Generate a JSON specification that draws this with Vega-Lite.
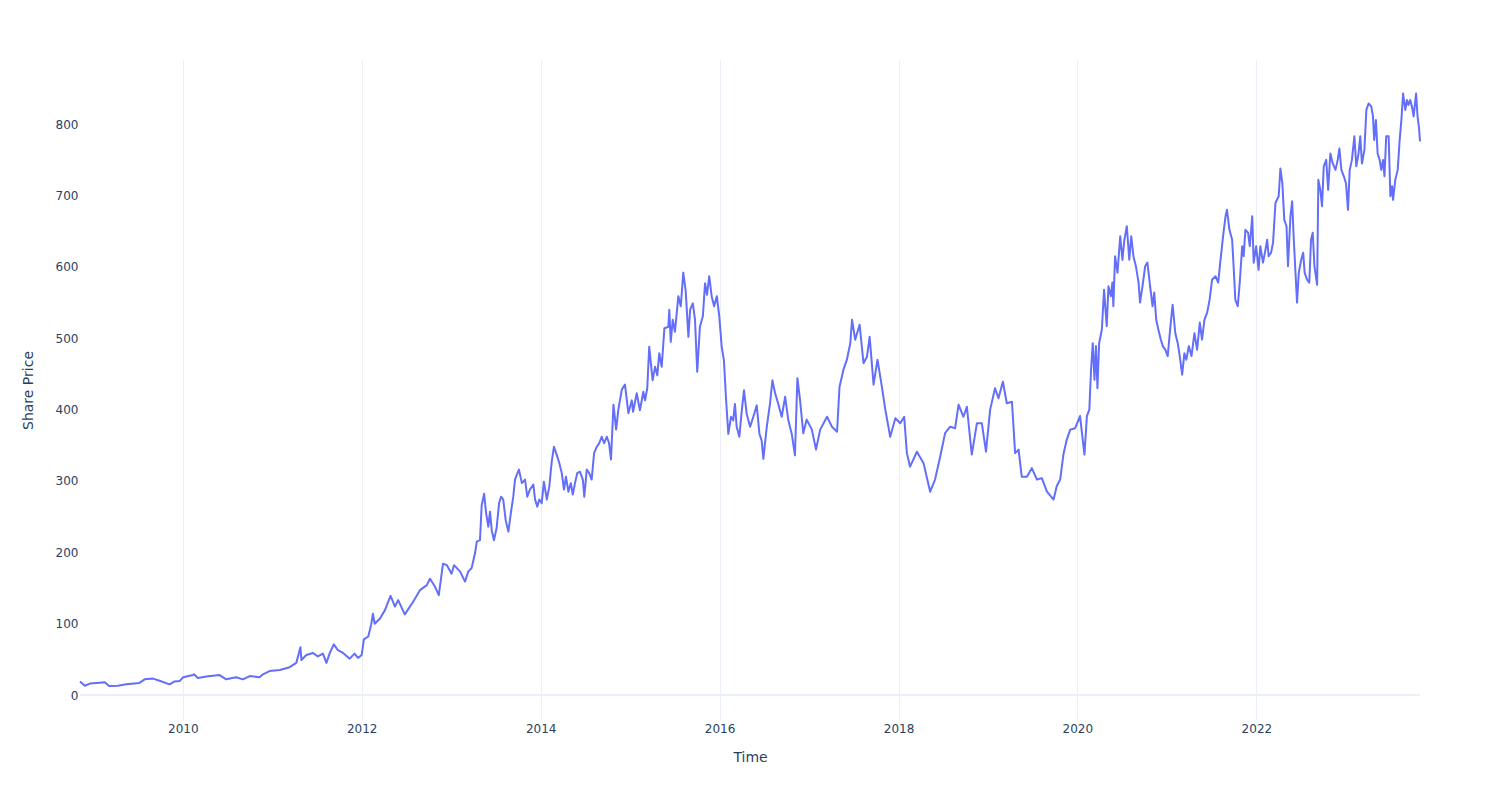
{
"$schema":"https://vega.github.io/schema/vega-lite/v6.json",
"width":1340,"height":660,
"autosize":{"type":"none"},
"padding":{"left":80,"top":60,"right":80,"bottom":80},
"background":"white",
"config":{"view":{"stroke":null},"font":"DejaVu Sans",
"axis":{"labelColor":"#2a3f5f","labelFontSize":12,"titleColor":"#2a3f5f","titleFontSize":14,"titleFontWeight":"normal","gridColor":"#EBF0F8","gridWidth":1,"domain":false,"ticks":false,"labelFont":"DejaVu Sans","titleFont":"DejaVu Sans"}},
"layer":[
{"data":{"values":[{}]},
"mark":{"type":"rule","color":"#EBF0F8","strokeWidth":2},
"encoding":{"y":{"datum":0,"type":"quantitative","axis":{"title":"Share Price"}}}},
{"data":{"values":[
{"date":"2008-11-07","price":19},{"date":"2008-11-27","price":13},{"date":"2008-12-17","price":16},{"date":"2009-01-14","price":17},{"date":"2009-02-16","price":18},{"date":"2009-03-06","price":12.6},{"date":"2009-04-11","price":13},{"date":"2009-05-15","price":15},{"date":"2009-07-08","price":17},{"date":"2009-07-29","price":22},{"date":"2009-09-01","price":23},{"date":"2009-09-28","price":20},{"date":"2009-11-08","price":15},{"date":"2009-11-28","price":19},{"date":"2009-12-19","price":19.6},{"date":"2010-01-02","price":25},{"date":"2010-02-11","price":28},{"date":"2010-02-15","price":29},{"date":"2010-03-03","price":24},{"date":"2010-04-07","price":26},{"date":"2010-05-31","price":28},{"date":"2010-06-27","price":22},{"date":"2010-08-07","price":25},{"date":"2010-09-03","price":22},{"date":"2010-10-01","price":26.6},{"date":"2010-11-10","price":25},{"date":"2010-11-24","price":29},{"date":"2010-12-21","price":33.6},{"date":"2011-02-01","price":35},{"date":"2011-03-13","price":39},{"date":"2011-04-09","price":45},{"date":"2011-04-26","price":67},{"date":"2011-04-30","price":49},{"date":"2011-05-20","price":56},{"date":"2011-06-16","price":59},{"date":"2011-07-06","price":54},{"date":"2011-07-27","price":58},{"date":"2011-08-10","price":45},{"date":"2011-08-23","price":58},{"date":"2011-09-09","price":71},{"date":"2011-09-26","price":63},{"date":"2011-10-17","price":59},{"date":"2011-11-13","price":51},{"date":"2011-12-03","price":58},{"date":"2011-12-17","price":52},{"date":"2012-01-01","price":56},{"date":"2012-01-10","price":78},{"date":"2012-01-28","price":82},{"date":"2012-02-09","price":99},{"date":"2012-02-16","price":114},{"date":"2012-02-23","price":100},{"date":"2012-03-15","price":107},{"date":"2012-04-05","price":119},{"date":"2012-04-28","price":139},{"date":"2012-05-16","price":124},{"date":"2012-05-29","price":133},{"date":"2012-06-25","price":113},{"date":"2012-07-28","price":130},{"date":"2012-08-26","price":147},{"date":"2012-09-23","price":154},{"date":"2012-10-06","price":163},{"date":"2012-10-26","price":152},{"date":"2012-11-11","price":140},{"date":"2012-11-28","price":184},{"date":"2012-12-14","price":182},{"date":"2013-01-02","price":170},{"date":"2013-01-12","price":182},{"date":"2013-02-06","price":173},{"date":"2013-02-26","price":159},{"date":"2013-03-11","price":173},
{"date":"2013-03-25","price":178},{"date":"2013-04-08","price":199},{"date":"2013-04-15","price":215},{"date":"2013-04-28","price":217},{"date":"2013-05-05","price":266},{"date":"2013-05-15","price":282},{"date":"2013-05-23","price":255},{"date":"2013-06-01","price":236},{"date":"2013-06-08","price":257},{"date":"2013-06-15","price":231},{"date":"2013-06-24","price":217},{"date":"2013-07-05","price":234},{"date":"2013-07-15","price":269},{"date":"2013-07-23","price":278},{"date":"2013-08-01","price":274},{"date":"2013-08-11","price":245},{"date":"2013-08-22","price":229},{"date":"2013-09-01","price":255},{"date":"2013-09-11","price":278},{"date":"2013-09-18","price":302},{"date":"2013-09-28","price":311},{"date":"2013-10-04","price":316},{"date":"2013-10-16","price":297},{"date":"2013-10-29","price":302},{"date":"2013-11-07","price":278},{"date":"2013-11-18","price":288},{"date":"2013-12-02","price":295},{"date":"2013-12-09","price":274},{"date":"2013-12-18","price":264},{"date":"2013-12-26","price":274},{"date":"2014-01-05","price":269},{"date":"2014-01-14","price":299},{"date":"2014-01-26","price":274},{"date":"2014-02-05","price":292},{"date":"2014-02-15","price":327},{"date":"2014-02-24","price":348},{"date":"2014-03-07","price":337},{"date":"2014-03-18","price":325},{"date":"2014-03-28","price":311},{"date":"2014-04-06","price":288},{"date":"2014-04-14","price":306},{"date":"2014-04-24","price":285},{"date":"2014-05-04","price":297},{"date":"2014-05-12","price":281},{"date":"2014-05-21","price":297},{"date":"2014-05-30","price":311},{"date":"2014-06-10","price":313},{"date":"2014-06-22","price":302},{"date":"2014-06-28","price":278},{"date":"2014-07-08","price":316},{"date":"2014-07-18","price":311},{"date":"2014-07-28","price":302},{"date":"2014-08-07","price":339},{"date":"2014-08-18","price":348},{"date":"2014-08-28","price":353},{"date":"2014-09-07","price":362},{"date":"2014-09-17","price":353},{"date":"2014-09-28","price":362},{"date":"2014-10-07","price":353},{"date":"2014-10-15","price":330},{"date":"2014-10-25","price":407},{"date":"2014-11-05","price":372},{"date":"2014-11-14","price":400},{"date":"2014-11-21","price":414},{"date":"2014-11-28","price":428},{"date":"2014-12-11","price":435},{"date":"2014-12-25","price":395},
{"date":"2015-01-08","price":413},{"date":"2015-01-13","price":397},{"date":"2015-01-28","price":423},{"date":"2015-02-10","price":399},{"date":"2015-02-24","price":425},{"date":"2015-03-03","price":413},{"date":"2015-03-12","price":430},{"date":"2015-03-20","price":488},{"date":"2015-04-03","price":441},{"date":"2015-04-13","price":460},{"date":"2015-04-22","price":448},{"date":"2015-04-30","price":479},{"date":"2015-05-10","price":460},{"date":"2015-05-21","price":514},{"date":"2015-06-06","price":516},{"date":"2015-06-10","price":540},{"date":"2015-06-16","price":495},{"date":"2015-06-24","price":526},{"date":"2015-07-03","price":509},{"date":"2015-07-17","price":559},{"date":"2015-07-27","price":545},{"date":"2015-08-06","price":592},{"date":"2015-08-16","price":566},{"date":"2015-08-27","price":502},{"date":"2015-09-03","price":540},{"date":"2015-09-14","price":549},{"date":"2015-09-23","price":526},{"date":"2015-10-02","price":453},{"date":"2015-10-13","price":516},{"date":"2015-10-25","price":531},{"date":"2015-11-03","price":577},{"date":"2015-11-11","price":561},{"date":"2015-11-20","price":587},{"date":"2015-11-30","price":559},{"date":"2015-12-10","price":545},{"date":"2015-12-21","price":559},{"date":"2015-12-31","price":531},{"date":"2016-01-10","price":488},{"date":"2016-01-19","price":469},{"date":"2016-01-28","price":413},{"date":"2016-02-06","price":366},{"date":"2016-02-17","price":390},{"date":"2016-02-26","price":385},{"date":"2016-03-04","price":408},{"date":"2016-03-11","price":376},{"date":"2016-03-22","price":362},{"date":"2016-04-01","price":399},{"date":"2016-04-10","price":427},{"date":"2016-04-21","price":394},{"date":"2016-05-05","price":376},{"date":"2016-05-18","price":390},{"date":"2016-06-01","price":406},{"date":"2016-06-12","price":366},{"date":"2016-06-21","price":357},{"date":"2016-06-28","price":331},{"date":"2016-07-12","price":376},{"date":"2016-07-25","price":408},{"date":"2016-08-04","price":441},{"date":"2016-08-15","price":423},{"date":"2016-08-28","price":408},{"date":"2016-09-11","price":390},{"date":"2016-09-25","price":418},{"date":"2016-10-08","price":385},{"date":"2016-10-22","price":366},{"date":"2016-11-04","price":336},{"date":"2016-11-14","price":444},{"date":"2016-11-25","price":413},
{"date":"2016-12-08","price":367},{"date":"2016-12-22","price":386},{"date":"2017-01-12","price":372},{"date":"2017-01-29","price":344},{"date":"2017-02-15","price":372},{"date":"2017-03-15","price":390},{"date":"2017-04-04","price":376},{"date":"2017-04-25","price":369},{"date":"2017-05-05","price":432},{"date":"2017-05-21","price":456},{"date":"2017-06-04","price":470},{"date":"2017-06-18","price":493},{"date":"2017-06-25","price":526},{"date":"2017-07-08","price":498},{"date":"2017-07-26","price":519},{"date":"2017-08-11","price":465},{"date":"2017-08-25","price":474},{"date":"2017-09-05","price":502},{"date":"2017-09-21","price":435},{"date":"2017-10-07","price":470},{"date":"2017-10-25","price":432},{"date":"2017-11-08","price":400},{"date":"2017-11-28","price":362},{"date":"2017-12-19","price":388},{"date":"2018-01-08","price":381},{"date":"2018-01-24","price":390},{"date":"2018-02-04","price":339},{"date":"2018-02-17","price":320},{"date":"2018-03-17","price":341},{"date":"2018-04-13","price":325},{"date":"2018-05-10","price":285},{"date":"2018-05-30","price":302},{"date":"2018-06-20","price":334},{"date":"2018-07-10","price":367},{"date":"2018-07-31","price":376},{"date":"2018-08-20","price":374},{"date":"2018-09-03","price":407},{"date":"2018-09-23","price":390},{"date":"2018-10-07","price":404},{"date":"2018-10-27","price":337},{"date":"2018-11-17","price":381},{"date":"2018-12-07","price":381},{"date":"2018-12-24","price":341},{"date":"2019-01-10","price":400},{"date":"2019-01-30","price":430},{"date":"2019-02-13","price":416},{"date":"2019-03-03","price":439},{"date":"2019-03-19","price":409},{"date":"2019-04-09","price":411},{"date":"2019-04-22","price":339},{"date":"2019-05-06","price":344},{"date":"2019-05-19","price":306},{"date":"2019-06-09","price":306},{"date":"2019-06-29","price":318},{"date":"2019-07-20","price":302},{"date":"2019-08-09","price":304},{"date":"2019-08-30","price":285},{"date":"2019-09-26","price":274},{"date":"2019-10-09","price":293},{"date":"2019-10-23","price":302},{"date":"2019-11-05","price":337},{"date":"2019-11-19","price":358},{"date":"2019-12-03","price":372},{"date":"2019-12-23","price":374},
{"date":"2020-01-12","price":391},{"date":"2020-01-23","price":358},{"date":"2020-01-30","price":337},{"date":"2020-02-09","price":391},{"date":"2020-02-19","price":400},{"date":"2020-02-26","price":456},{"date":"2020-03-04","price":493},{"date":"2020-03-11","price":442},{"date":"2020-03-17","price":489},{"date":"2020-03-23","price":430},{"date":"2020-03-30","price":493},{"date":"2020-04-10","price":512},{"date":"2020-04-19","price":568},{"date":"2020-04-30","price":517},{"date":"2020-05-07","price":573},{"date":"2020-05-17","price":559},{"date":"2020-05-23","price":578},{"date":"2020-05-27","price":545},{"date":"2020-06-03","price":615},{"date":"2020-06-13","price":592},{"date":"2020-06-24","price":643},{"date":"2020-07-03","price":610},{"date":"2020-07-11","price":638},{"date":"2020-07-21","price":657},{"date":"2020-07-31","price":610},{"date":"2020-08-08","price":643},{"date":"2020-08-17","price":615},{"date":"2020-08-27","price":601},{"date":"2020-09-07","price":578},{"date":"2020-09-13","price":550},{"date":"2020-09-23","price":573},{"date":"2020-10-04","price":601},{"date":"2020-10-13","price":606},{"date":"2020-10-24","price":573},{"date":"2020-11-03","price":545},{"date":"2020-11-10","price":564},{"date":"2020-11-18","price":526},{"date":"2020-11-27","price":512},{"date":"2020-12-07","price":498},{"date":"2020-12-15","price":489},{"date":"2020-12-25","price":484},{"date":"2021-01-04","price":475},{"date":"2021-01-15","price":517},{"date":"2021-01-24","price":547},{"date":"2021-02-04","price":507},{"date":"2021-02-14","price":493},{"date":"2021-02-22","price":475},{"date":"2021-03-04","price":449},{"date":"2021-03-13","price":479},{"date":"2021-03-21","price":470},{"date":"2021-03-31","price":489},{"date":"2021-04-11","price":475},{"date":"2021-04-23","price":507},{"date":"2021-05-04","price":484},{"date":"2021-05-15","price":522},{"date":"2021-05-24","price":498},{"date":"2021-06-03","price":526},{"date":"2021-06-14","price":536},{"date":"2021-06-24","price":554},{"date":"2021-07-04","price":582},{"date":"2021-07-18","price":587},{"date":"2021-07-29","price":578},{"date":"2021-08-07","price":608},{"date":"2021-08-18","price":643},{"date":"2021-08-28","price":671},{"date":"2021-09-03","price":680},{"date":"2021-09-13","price":652},{"date":"2021-09-24","price":638},{"date":"2021-09-30","price":601},{"date":"2021-10-07","price":554},{"date":"2021-10-17","price":545},{"date":"2021-10-25","price":578},{"date":"2021-11-04","price":629},{"date":"2021-11-10","price":615},{"date":"2021-11-17","price":652},{"date":"2021-11-28","price":648},{"date":"2021-12-05","price":629},{"date":"2021-12-15","price":671},{"date":"2021-12-21","price":606},{"date":"2021-12-31","price":629},{"date":"2022-01-10","price":596},{"date":"2022-01-17","price":629},
{"date":"2022-01-28","price":606},{"date":"2022-02-07","price":624},{"date":"2022-02-14","price":638},{"date":"2022-02-20","price":615},{"date":"2022-03-02","price":620},{"date":"2022-03-10","price":634},{"date":"2022-03-20","price":690},{"date":"2022-04-02","price":699},{"date":"2022-04-09","price":738},{"date":"2022-04-17","price":717},{"date":"2022-04-25","price":666},{"date":"2022-05-04","price":657},{"date":"2022-05-10","price":601},{"date":"2022-05-20","price":671},{"date":"2022-05-27","price":692},{"date":"2022-06-02","price":643},{"date":"2022-06-09","price":596},{"date":"2022-06-16","price":550},{"date":"2022-06-23","price":592},{"date":"2022-07-03","price":610},{"date":"2022-07-11","price":620},{"date":"2022-07-17","price":592},{"date":"2022-07-27","price":582},{"date":"2022-08-05","price":578},{"date":"2022-08-12","price":638},{"date":"2022-08-19","price":648},{"date":"2022-08-26","price":601},{"date":"2022-09-06","price":575},{"date":"2022-09-11","price":722},{"date":"2022-09-19","price":708},{"date":"2022-09-26","price":685},{"date":"2022-10-03","price":741},{"date":"2022-10-13","price":750},{"date":"2022-10-21","price":708},{"date":"2022-10-30","price":759},{"date":"2022-11-09","price":745},{"date":"2022-11-20","price":736},{"date":"2022-11-29","price":750},{"date":"2022-12-06","price":766},{"date":"2022-12-14","price":736},{"date":"2022-12-24","price":727},{"date":"2023-01-02","price":717},{"date":"2023-01-10","price":680},{"date":"2023-01-17","price":736},{"date":"2023-01-26","price":750},{"date":"2023-02-05","price":783},{"date":"2023-02-13","price":741},{"date":"2023-02-22","price":759},{"date":"2023-03-01","price":783},{"date":"2023-03-08","price":745},{"date":"2023-03-18","price":764},{"date":"2023-03-26","price":820},{"date":"2023-04-04","price":829},{"date":"2023-04-15","price":825},{"date":"2023-04-22","price":811},{"date":"2023-04-27","price":778},{"date":"2023-05-04","price":806},{"date":"2023-05-11","price":759},{"date":"2023-05-19","price":750},{"date":"2023-05-26","price":736},{"date":"2023-06-02","price":750},{"date":"2023-06-08","price":727},{"date":"2023-06-15","price":783},{"date":"2023-06-25","price":783},{"date":"2023-07-02","price":699},{"date":"2023-07-09","price":713},{"date":"2023-07-13","price":694},{"date":"2023-07-22","price":722},{"date":"2023-08-01","price":736},{"date":"2023-08-09","price":778},{"date":"2023-08-16","price":806},{"date":"2023-08-23","price":843},{"date":"2023-09-01","price":820},{"date":"2023-09-08","price":834},{"date":"2023-09-14","price":827},{"date":"2023-09-21","price":834},{"date":"2023-09-28","price":825},{"date":"2023-10-05","price":811},{"date":"2023-10-15","price":843},{"date":"2023-10-21","price":811},{"date":"2023-10-27","price":795},{"date":"2023-10-31","price":776}
]},
"mark":{"type":"line","color":"#636efa","strokeWidth":2,"strokeJoin":"round"},
"encoding":{
"x":{"field":"date","type":"temporal","scale":{"domain":[{"year":2008,"month":11,"date":7},{"year":2023,"month":10,"date":31}]},
"axis":{"title":"Time","format":"%Y","labelPadding":3,"titlePadding":16,"labelBaseline":"top","values":[{"year":2010,"month":1,"date":1},{"year":2012,"month":1,"date":1},{"year":2014,"month":1,"date":1},{"year":2016,"month":1,"date":1},{"year":2018,"month":1,"date":1},{"year":2020,"month":1,"date":1},{"year":2022,"month":1,"date":1}]}},
"y":{"field":"price","type":"quantitative","scale":{"domain":[-35,890],"nice":false,"zero":false},
"axis":{"title":"Share Price","values":[0,100,200,300,400,500,600,700,800],"labelPadding":2,"titlePadding":20}}
}}
]
}
